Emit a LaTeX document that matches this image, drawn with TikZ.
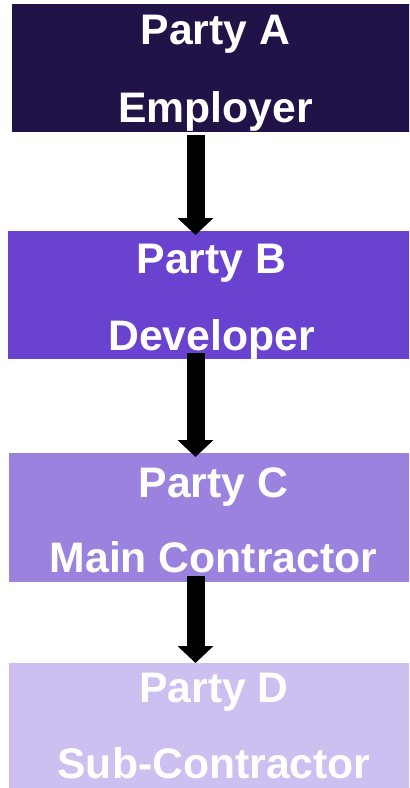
\documentclass[tikz,border=0pt]{standalone}
\usepackage{fontspec}
\setmainfont{Liberation Sans}
\usetikzlibrary{arrows.meta,calc}
\definecolor{partyA}{HTML}{211347}
\definecolor{partyB}{HTML}{6942CF}
\definecolor{partyC}{HTML}{9B82DF}
\definecolor{partyD}{HTML}{CDBFEF}
\begin{document}
\begin{tikzpicture}[x=1bp,y=-1bp,
  party/.style={draw=none, inner sep=0pt, outer sep=0pt, anchor=north west,
    minimum width=406bp, minimum height=128bp},
  caption/.style={text=white, font=\fontsize{42.7bp}{50bp}\selectfont\bfseries,
    anchor=base, inner sep=0pt},
  flow/.style={line width=18bp, draw=black,
    -{Triangle[width=35bp,length=17bp]}}]
\useasboundingbox (0,0) rectangle (409,788);
\clip (0,0) rectangle (409,788);

% the four parties
\node[party, fill=partyA] (A) at (12,4) {};
\node[party, fill=partyB] (B) at (8,231) {};
\node[party, fill=partyC, minimum height=129bp] (C) at (9,453) {};
\node[party, fill=partyD, minimum height=130bp] (D) at (9,663) {};

% captions
\node[caption] (A1) at (215.5,45) {Party A};
\node[caption] (A2) at (215.5,122) {Employer};
\node[caption] (B1) at (211.5,273) {Party B};
\node[caption] (B2) at (211.5,350) {Developer};
\node[caption] (C1) at (213.5,497) {Party C};
\node[caption] (C2) at (213.5,572) {Main Contractor};
\node[caption] (D1) at (214,702) {Party D};
\node[caption] (D2) at (214,778) {Sub-Contractor};

% arrows between parties
\coordinate (axis) at (195.5,0);
\draw[flow] ($(A.south -| axis)+(0,3)$) -- ($(B.north -| axis)+(0,4)$);
\draw[flow] ($(B.south -| axis)+(0,-6)$) -- ($(C.north -| axis)+(0,4)$);
\draw[flow] ($(C.south -| axis)+(0,-6)$) -- ($(D.north -| axis)+(0,0)$);
\end{tikzpicture}
\end{document}
